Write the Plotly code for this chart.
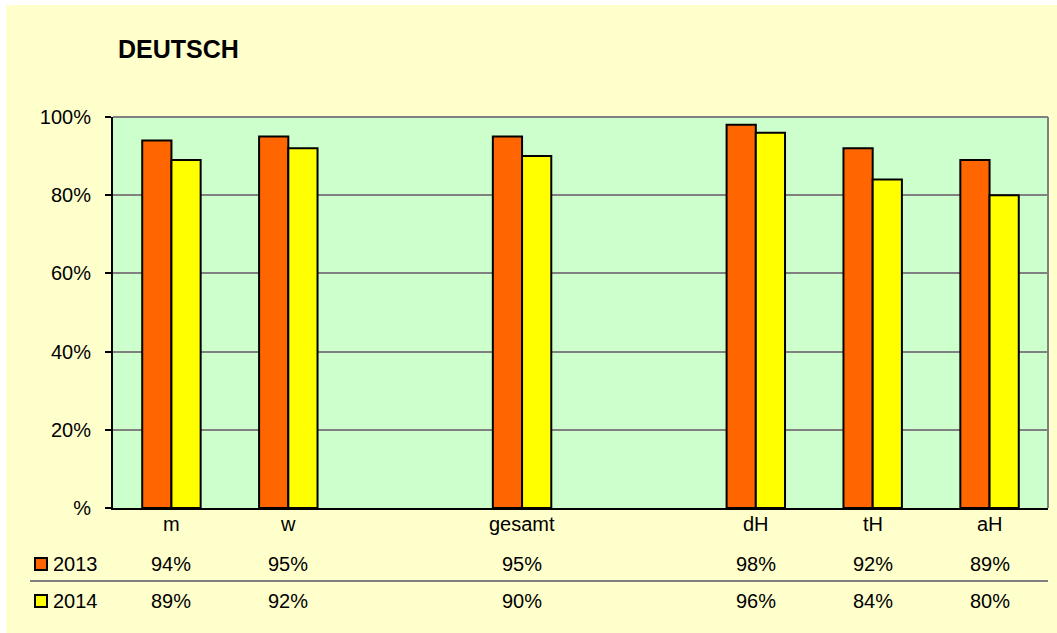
import plotly.graph_objects as go

# Categories (empty strings are spacer slots between groups)
categories = ["m", "w", "", "gesamt", "", "dH", "tH", "aH"]
series_names = ["2013", "2014"]
values_2013 = [94, 95, None, 95, None, 98, 92, 89]
values_2014 = [89, 92, None, 90, None, 96, 84, 80]
y_tick_vals = [0, 20, 40, 60, 80, 100]
y_tick_text = ["%", "20%", "40%", "60%", "80%", "100%"]

colors = ["#FF6600", "#FFFF00"]
FONT = "Liberation Sans, Arial, sans-serif"
TXT = 20

W, H = 1057, 633
L, R, T, B = 113, 9, 117, 125
PW, PH = W - L - R, H - T - B


def px_x(px):
    return (px - L) / PW


def px_y(py):
    return (H - B - py) / PH


xs = list(range(len(categories)))
fig = go.Figure()
for name, vals, col in zip(series_names, [values_2013, values_2014], colors):
    fig.add_trace(go.Bar(
        x=xs, y=vals, name=name,
        marker=dict(color=col, line=dict(color="#000000", width=2)),
        showlegend=False,
    ))

annotations = [dict(
    text="<b>DEUTSCH</b>", x=px_x(116), y=px_y(49), xref="paper", yref="paper",
    xanchor="left", yanchor="middle", showarrow=False,
    font=dict(family=FONT, size=25, color="#000000"),
)]

# Data table: category row and one row per series
row_y = [px_y(564), px_y(601)]
for i, cat in enumerate(categories):
    if not cat:
        continue
    annotations.append(dict(
        text=cat, x=i, y=px_y(524), xref="x", yref="paper",
        xanchor="center", yanchor="middle", showarrow=False,
        font=dict(family=FONT, size=TXT, color="#000000"),
    ))
    for vals, ry in zip([values_2013, values_2014], row_y):
        annotations.append(dict(
            text=f"{vals[i]}%", x=i, y=ry, xref="x", yref="paper",
            xanchor="center", yanchor="middle", showarrow=False,
            font=dict(family=FONT, size=TXT, color="#000000"),
        ))

shapes = []
key_tops = [558, 595]
for name, col, ry, kt in zip(series_names, colors, row_y, key_tops):
    shapes.append(dict(
        type="rect", xref="paper", yref="paper",
        x0=px_x(35), x1=px_x(47), y0=px_y(kt), y1=px_y(kt + 12),
        fillcolor=col, line=dict(color="#000000", width=2),
    ))
    annotations.append(dict(
        text=name, x=px_x(51), y=ry, xref="paper", yref="paper",
        xanchor="left", yanchor="middle", showarrow=False,
        font=dict(family=FONT, size=TXT, color="#000000"),
    ))

# Separator between data table rows
shapes.append(dict(
    type="line", xref="paper", yref="paper",
    x0=px_x(30), x1=1, y0=px_y(581), y1=px_y(581),
    line=dict(color="#808080", width=2),
))
# Plot area border (top and right)
shapes.append(dict(type="line", xref="paper", yref="paper", x0=0, x1=1, y0=1, y1=1,
                   line=dict(color="#808080", width=2)))
shapes.append(dict(type="line", xref="paper", yref="paper", x0=1, x1=1, y0=0, y1=1,
                   line=dict(color="#808080", width=2)))
# White outer frame on the left and top edges
shapes.append(dict(type="rect", xref="paper", yref="paper",
                   x0=px_x(-20), x1=px_x(6), y0=px_y(700), y1=px_y(-20),
                   fillcolor="#FFFFFF", line=dict(width=0)))
shapes.append(dict(type="rect", xref="paper", yref="paper",
                   x0=px_x(-20), x1=px_x(1100), y0=px_y(5), y1=px_y(-20),
                   fillcolor="#FFFFFF", line=dict(width=0)))

fig.update_layout(
    width=W, height=H,
    margin=dict(l=L, r=R, t=T, b=B, pad=0),
    paper_bgcolor="#FFFFCC",
    plot_bgcolor="#CCFFCC",
    barmode="group",
    bargap=0.5,
    bargroupgap=0,
    font=dict(family=FONT, size=TXT, color="#000000"),
    xaxis=dict(
        range=[-0.5, len(categories) - 0.5],
        showticklabels=False, showgrid=False, zeroline=False,
        showline=True, linecolor="#000000", linewidth=2,
        ticks="", fixedrange=True,
    ),
    yaxis=dict(
        range=[0, 100], tickvals=y_tick_vals, ticktext=y_tick_text,
        showgrid=True, gridcolor="#808080", gridwidth=2,
        zeroline=False, showline=True, linecolor="#000000", linewidth=2,
        ticks="outside", ticklen=6, tickwidth=2, tickcolor="#000000",
        ticklabelstandoff=10,
        tickfont=dict(family=FONT, size=TXT, color="#000000"),
    ),
    annotations=annotations,
    shapes=shapes,
)

fig.write_html("out.html")
